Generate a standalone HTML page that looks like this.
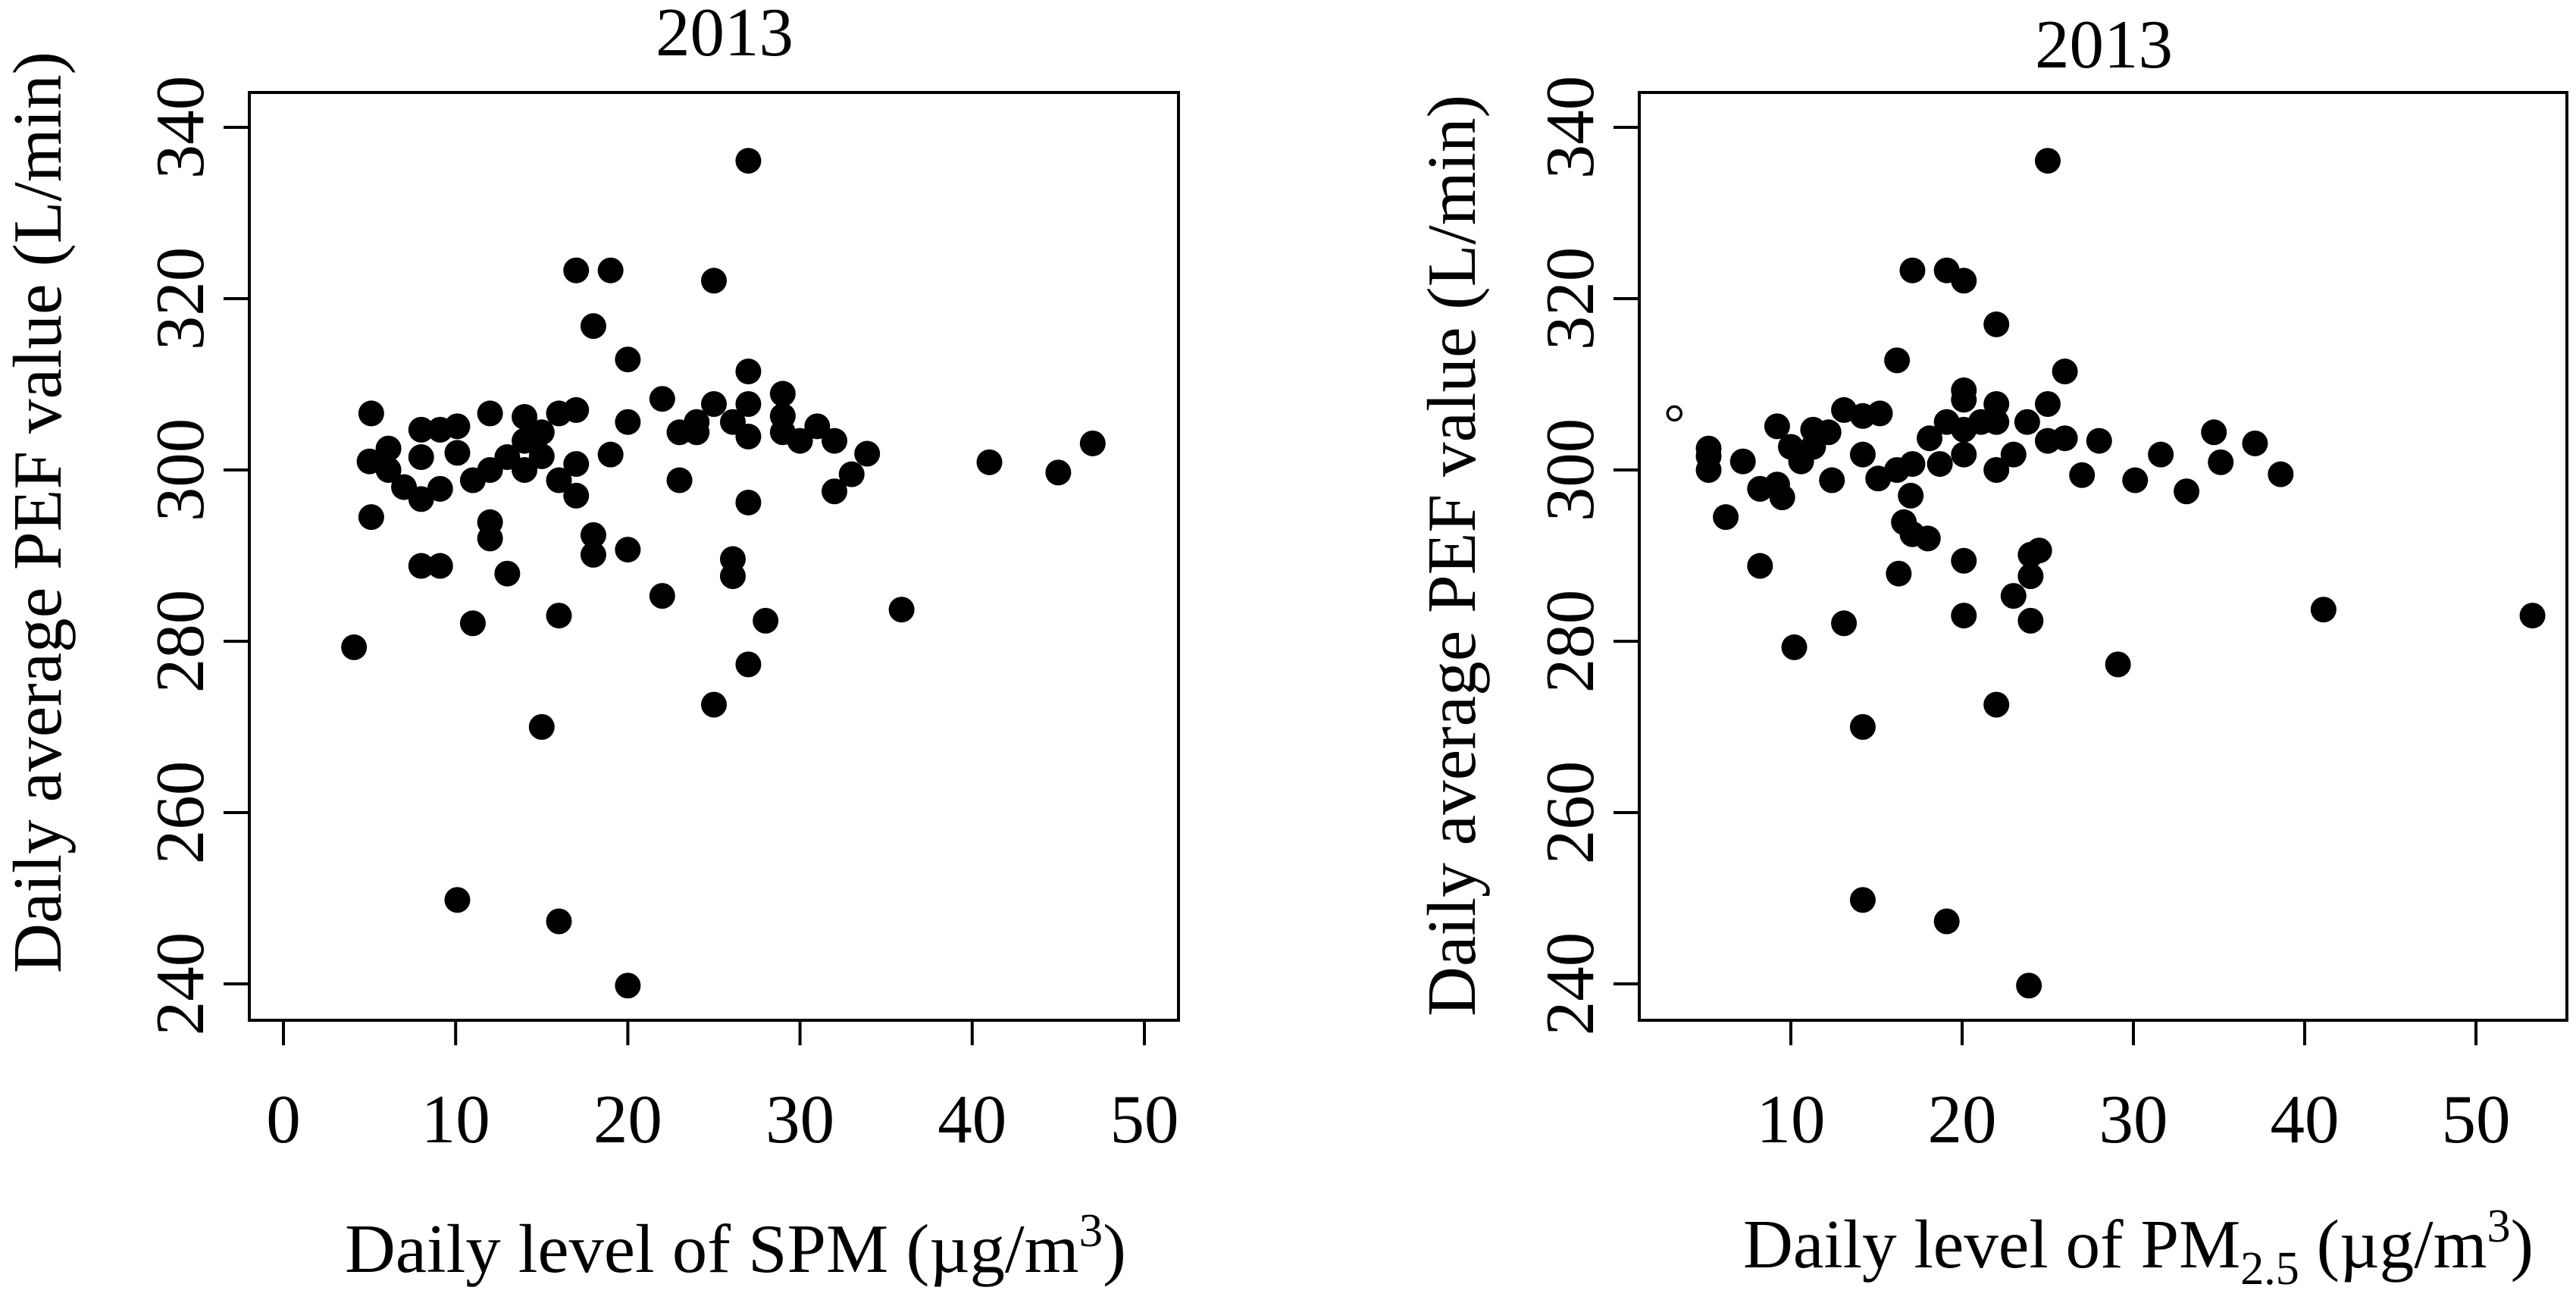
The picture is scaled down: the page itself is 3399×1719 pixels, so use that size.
<!DOCTYPE html>
<html><head><meta charset="utf-8"><style>
html,body{margin:0;padding:0;background:#fff;}
svg{display:block;}
text{font-family:"Liberation Serif","Times New Roman",serif;fill:#000;}
</style></head><body>
<svg id="fig" width="3399" height="1719" viewBox="0 0 3399 1719" xmlns="http://www.w3.org/2000/svg">
<g id="left"></g>
<g id="right"></g>
</svg>
<script>
const spmX=[4.1,5.1,5.0,5.1,6.1,6.1,7.0,8.0,8.0,8.0,8.0,9.1,9.1,9.1,10.1,10.1,10.1,11.0,11.0,12.0,12.0,12.0,12.0,13.0,13.0,14.0,14.0,14.0,15.0,15.0,15.0,16.0,16.0,16.0,16.0,17.0,17.0,17.0,17.0,18.0,18.0,18.0,19.0,19.0,20.0,20.0,20.0,20.0,22.0,22.0,23.0,23.0,24.0,24.0,25.0,25.0,25.0,26.1,26.1,26.1,27.0,27.0,27.0,27.0,27.0,27.0,28.0,29.0,29.0,29.0,30.0,31.0,32.0,32.0,33.0,33.9,35.9,41.0,45.0,47.0];
const spmY=[279.3,306.6,301.0,294.5,302.5,300,298,304.7,301.5,296.6,288.8,304.7,297.8,288.8,305.1,302,249.8,298.8,282.1,306.6,300,293.9,292,287.9,301.5,306.2,303.4,300,304.4,301.6,270,306.6,298.8,283,247.3,323.3,307,300.7,297,316.8,292.4,290.1,323.3,301.8,312.9,305.6,290.7,239.8,308.3,285.3,304.4,298.8,305.6,304.4,322.1,307.7,272.6,305.6,289.6,287.6,311.5,307.7,303.9,296.2,277.3,336.1,282.4,308.9,306.3,304.4,303.4,305.1,303.4,297.5,299.5,301.9,283.7,300.9,299.7,303.1];
const pmX=[5.2,5.2,5.2,6.2,7.2,8.2,8.2,9.2,9.2,9.5,10.0,10.6,11.3,11.3,12.2,12.4,13.1,13.1,10.2,14.2,14.2,14.2,14.2,15.2,15.1,16.2,16.2,16.3,16.6,17.0,17.1,17.1,17.1,18.0,18.1,19.1,19.1,18.7,19.1,20.1,20.1,20.1,20.1,20.1,20.1,20.1,21.1,22.0,22.0,22.0,22.0,22.0,23.0,23.0,23.8,23.9,24.0,24.0,24.0,24.5,25.0,25.0,25.0,26.0,26.0,27.0,28.0,29.1,30.1,31.6,33.1,34.7,35.1,37.1,38.6,41.1,53.3];
const pmY=[302.5,301.6,300,294.5,301,297.8,288.8,305.1,298.3,296.8,302.7,301,304.7,302.7,304.4,298.8,282.1,307,279.3,306.3,301.8,270,249.8,306.6,299,312.8,300,287.9,293.9,297,323.3,300.7,292.5,292,303.7,323.3,305.6,300.7,247.3,322.1,309.3,308.2,304.7,301.8,289.4,283,305.6,317,307.7,305.6,300,272.6,301.8,285.3,305.6,239.8,290.1,287.6,282.4,290.6,336.1,307.7,303.4,311.5,303.7,299.4,303.4,277.3,298.8,301.8,297.5,304.4,300.9,303.1,299.5,283.7,283];
const pmOpenX=[3.2];
const pmOpenY=[306.6];
const spmTicks=[0,10,20,30,40,50];
const pmTicks=[10,20,30,40,50];
const yTicks=[240,260,280,300,320,340];

const NS="http://www.w3.org/2000/svg";
function mk(parent,tag,attrs){const e=document.createElementNS(NS,tag);for(const k in attrs)e.setAttribute(k,attrs[k]);parent.appendChild(e);return e;}
function yScale(v){return 168+(340-v)*11.3;}

function panel(g,cfg){
  const sx=cfg.sx;
  const frame=mk(g,'rect',{x:cfg.x0,y:122,width:cfg.x1-cfg.x0,height:1224,fill:'none',stroke:'#000','stroke-width':4});
  
  
  cfg.xt.forEach(t=>{
    const l=mk(g,'line',{x1:sx(t),x2:sx(t),y1:1346,y2:1379,stroke:'#000','stroke-width':4});
    
    
    const tx=mk(g,'text',{x:sx(t),y:1507,'font-size':91,'text-anchor':'middle'});
    tx.textContent=t;
    
    
  });
  yTicks.forEach(t=>{
    const y=yScale(t);
    const l=mk(g,'line',{x1:cfg.x0-34,x2:cfg.x0,y1:y,y2:y,stroke:'#000','stroke-width':4});
    
    
    const tx=mk(g,'text',{x:0,y:0,'font-size':91,'text-anchor':'middle',transform:`translate(${cfg.ylab},${y}) rotate(-90)`});
    tx.textContent=t;
    
    
  });
  cfg.xs.forEach((v,i)=>{
    const c=mk(g,'circle',{cx:sx(v),cy:yScale(cfg.ys[i]),r:17,fill:'#000'});
    
    
  });
}
const L=document.getElementById('left'),R=document.getElementById('right');
panel(L,{x0:329,x1:1555,sx:v=>374+v*22.72,xt:spmTicks,ylab:268,xs:spmX,ys:spmY});
panel(R,{x0:2163,x1:3387,sx:v=>2363+(v-10)*22.6,xt:pmTicks,ylab:2102,xs:pmX,ys:pmY});
pmOpenX.forEach((v,i)=>{
  const c=mk(R,'circle',{cx:2363+(v-10)*22.6,cy:yScale(pmOpenY[i]),r:9,fill:'none',stroke:'#000','stroke-width':3.5});
  
  
});
</script>
<svg style="position:absolute;left:0;top:0" width="3399" height="1719" viewBox="0 0 3399 1719" xmlns="http://www.w3.org/2000/svg">
<text x="956" y="73" font-size="91" text-anchor="middle">2013</text>
<text x="2776" y="89" font-size="91" text-anchor="middle">2013</text>
<text transform="translate(80,676) rotate(-90)" font-size="91" text-anchor="middle" textLength="1216" lengthAdjust="spacingAndGlyphs">Daily average PEF value (L/min)</text>
<text transform="translate(1946,733) rotate(-90)" font-size="91" text-anchor="middle" textLength="1216" lengthAdjust="spacingAndGlyphs">Daily average PEF value (L/min)</text>
<text x="455" y="1678" font-size="91" textLength="1031" lengthAdjust="spacingAndGlyphs">Daily level of SPM (µg/m<tspan dy="-34" font-size="62">3</tspan><tspan dy="34">)</tspan></text>
<text x="2300" y="1672" font-size="91" textLength="1043" lengthAdjust="spacingAndGlyphs">Daily level of PM<tspan dy="22" font-size="62">2.5</tspan><tspan dy="-22"> (µg/m</tspan><tspan dy="-34" font-size="62">3</tspan><tspan dy="34">)</tspan></text>
</svg>
</body></html>
